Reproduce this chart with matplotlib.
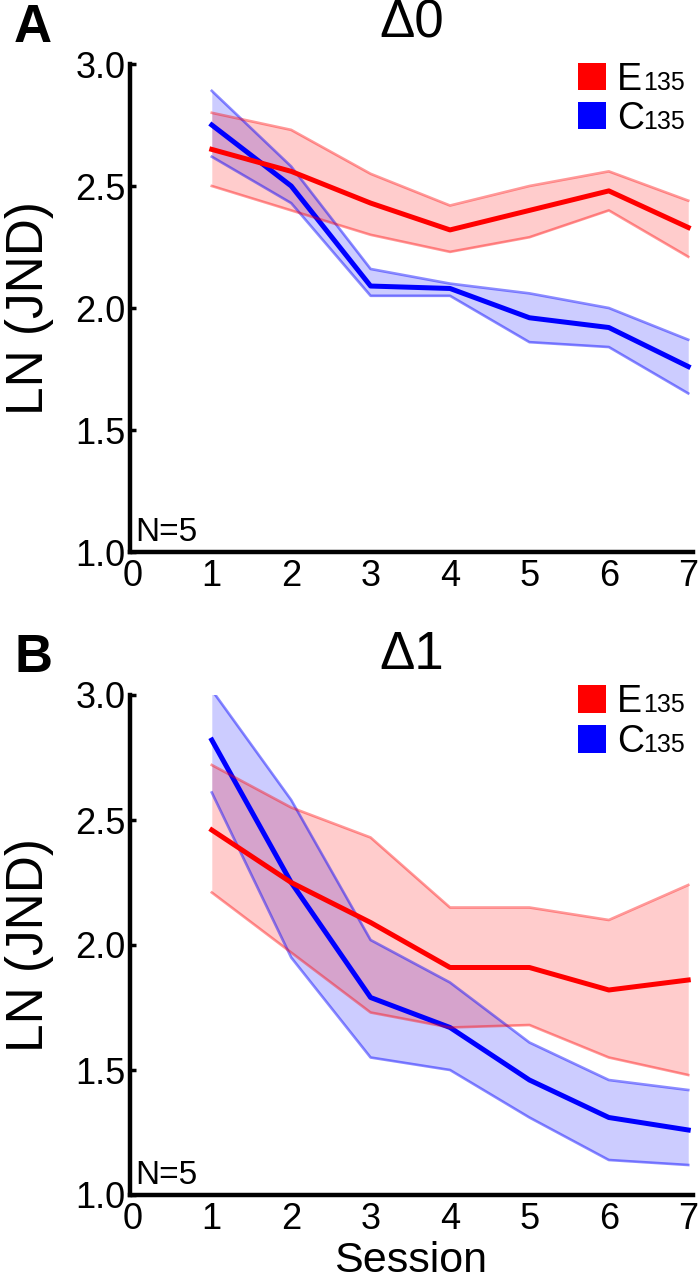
import matplotlib
matplotlib.use('Agg')
import matplotlib.pyplot as plt
from matplotlib.patches import Rectangle

plt.rcParams['font.family'] = ['Liberation Sans', 'DejaVu Sans']

sessions = [1, 2, 3, 4, 5, 6, 7]
xticks = [0, 1, 2, 3, 4, 5, 6, 7]
yticks = [1.0, 1.5, 2.0, 2.5, 3.0]

# panel A (delta 0)
a_e_mean = [2.65, 2.56, 2.43, 2.32, 2.40, 2.48, 2.33]
a_e_lo = [2.50, 2.40, 2.30, 2.23, 2.29, 2.40, 2.21]
a_e_hi = [2.80, 2.73, 2.55, 2.42, 2.50, 2.56, 2.44]
a_c_mean = [2.75, 2.50, 2.09, 2.08, 1.96, 1.92, 1.76]
a_c_lo = [2.62, 2.43, 2.05, 2.05, 1.86, 1.84, 1.65]
a_c_hi = [2.89, 2.58, 2.16, 2.10, 2.06, 2.00, 1.87]

# panel B (delta 1)
b_e_mean = [2.46, 2.25, 2.09, 1.91, 1.91, 1.82, 1.86]
b_e_lo = [2.21, 1.97, 1.73, 1.67, 1.68, 1.55, 1.48]
b_e_hi = [2.72, 2.55, 2.43, 2.15, 2.15, 2.10, 2.24]
b_c_mean = [2.82, 2.25, 1.79, 1.67, 1.46, 1.31, 1.26]
b_c_lo = [2.61, 1.95, 1.55, 1.50, 1.31, 1.14, 1.12]
b_c_hi = [3.02, 2.58, 2.02, 1.85, 1.61, 1.46, 1.42]

W, H = 699, 1280


def band(ax, mean, lo, hi, color, edge_alpha):
    ax.fill_between(sessions, lo, hi, color=color, alpha=0.2, linewidth=0)
    ax.plot(sessions, lo, color=color, alpha=edge_alpha, linewidth=1.9)
    ax.plot(sessions, hi, color=color, alpha=edge_alpha, linewidth=1.9)
    ax.plot(sessions, mean, color=color, linewidth=3.6)


def legend(ax, top):
    items = [('E', '#ff0000', top), ('C', '#0000ff', top - 0.08)]
    for name, color, base in items:
        ax.add_patch(Rectangle((0.796, base), 0.049, 0.056, transform=ax.transAxes,
                               facecolor=color, edgecolor='none', clip_on=False))
        ax.text(0.865, base, name, transform=ax.transAxes, fontsize=27, va='baseline')
        ax.text(0.911, base, '135', transform=ax.transAxes, fontsize=18, va='baseline')


def panel(rect, e, c, title, letter, letter_y, leg_top, show_xlabel):
    ax = fig.add_axes(rect)
    band(ax, c[0], c[1], c[2], '#0000ff', 0.45)
    band(ax, e[0], e[1], e[2], '#ff0000', 0.4)
    ax.set_xlim(-0.03, 7.06)
    ax.set_ylim(1.0, 3.0)
    ax.set_xticks(xticks)
    ax.set_yticks(yticks)
    ax.set_yticklabels(['%.1f' % v for v in yticks])
    for s in ['top', 'right']:
        ax.spines[s].set_visible(False)
    for s in ['left', 'bottom']:
        ax.spines[s].set_linewidth(3.2)
    ax.tick_params(axis='x', length=0, pad=5, labelsize=26)
    ax.tick_params(axis='y', direction='in', length=4, width=2.5, pad=3, labelsize=26)
    ax.set_title(title, fontsize=38, pad=19)
    ax.set_ylabel('LN (JND)', fontsize=37)
    ax.yaxis.set_label_coords(-0.135, 0.5)
    ax.text(0.01, 0.008, 'N=5', transform=ax.transAxes, fontsize=24, va='bottom')
    legend(ax, leg_top)
    fig.text(14 / W, 1 - letter_y / H, letter, fontsize=38, fontweight='bold', va='top')
    if show_xlabel:
        fig.text(411 / W, 1 - 1272 / H, 'Session', fontsize=31, ha='center', va='baseline')
    return ax


fig = plt.figure(figsize=(W / 100, H / 100), dpi=100)
panel([130 / W, 1 - 552 / H, 563 / W, 488 / H],
      (a_e_mean, a_e_lo, a_e_hi), (a_c_mean, a_c_lo, a_c_hi), '\u03940', 'A', 3, 0.947, False)
panel([130 / W, 1 - 1195 / H, 563 / W, 500 / H],
      (b_e_mean, b_e_lo, b_e_hi), (b_c_mean, b_c_lo, b_c_hi), '\u03941', 'B', 633, 0.965, True)

fig.savefig('out.png', dpi=100)
